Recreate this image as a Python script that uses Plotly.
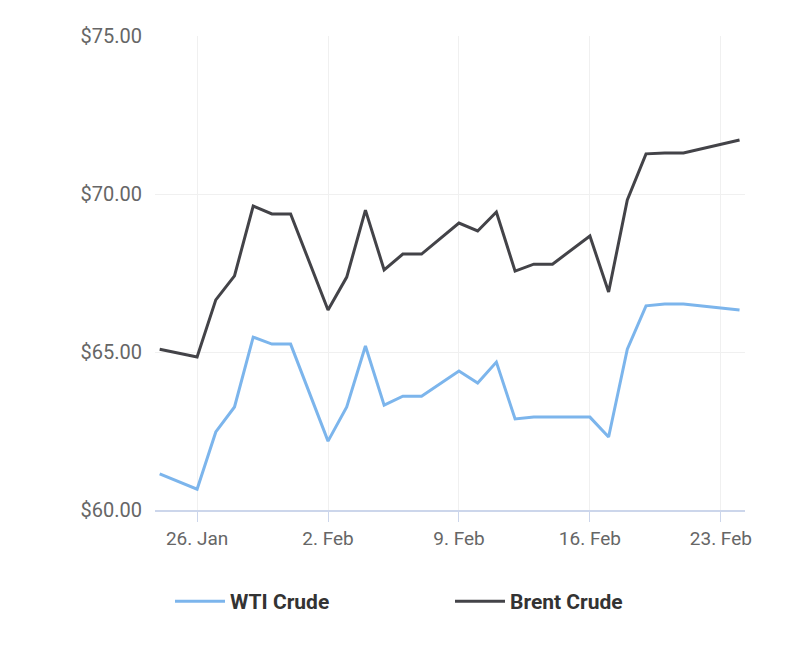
import plotly.graph_objects as go

dates = ["2021-01-24","2021-01-26","2021-01-27","2021-01-28","2021-01-29","2021-01-30","2021-01-31",
         "2021-02-02","2021-02-03","2021-02-04","2021-02-05","2021-02-06","2021-02-07","2021-02-09",
         "2021-02-10","2021-02-11","2021-02-12","2021-02-13","2021-02-14","2021-02-16","2021-02-17",
         "2021-02-18","2021-02-19","2021-02-20","2021-02-21","2021-02-24"]
wti = [61.14,60.66,62.47,63.26,65.47,65.25,65.25,62.18,63.26,65.19,63.32,63.6,63.6,64.4,
       64.02,64.68,62.88,62.94,62.94,62.94,62.31,65.09,66.46,66.52,66.52,66.33]
brent = [65.09,64.84,66.65,67.41,69.62,69.37,69.37,66.33,67.37,69.49,67.6,68.1,68.1,69.08,
         68.83,69.43,67.56,67.78,67.78,68.67,66.9,69.81,71.27,71.3,71.3,71.71]
tickvals = ["2021-01-26","2021-02-02","2021-02-09","2021-02-16","2021-02-23"]
ticktext = ["26. Jan","2. Feb","9. Feb","16. Feb","23. Feb"]

fig = go.Figure()
fig.add_trace(go.Scatter(x=dates, y=wti, name="WTI Crude", mode="lines",
                         line=dict(color="#7cb5ec", width=3)))
fig.add_trace(go.Scatter(x=dates, y=brent, name="Brent Crude", mode="lines",
                         line=dict(color="#434348", width=3)))
fig.update_layout(
    width=796, height=648, paper_bgcolor="white", plot_bgcolor="white",
    margin=dict(l=147, r=59, t=28, b=146),
    font=dict(family="Roboto", size=18, color="#666666"),
    legend=dict(orientation="h", x=0.5, xanchor="center", y=-0.15, yanchor="top",
                font=dict(size=21, color="#333333", family="Roboto", weight="bold"),
                itemwidth=50, entrywidth=215),
    xaxis=dict(range=["2021-01-23 18:00","2021-02-24 07:00"], tickvals=tickvals, ticktext=ticktext,
               showgrid=True, gridcolor="#f0f0f0", showline=True, linecolor="#ccd6eb", linewidth=2,
               ticks="outside", tickcolor="#ccd6eb", ticklen=10, tickfont=dict(size=19)),
    yaxis=dict(range=[60, 75], tickvals=[60,65,70,75], ticktext=["$60.00","$65.00","$70.00","$75.00"],
               showgrid=True, gridcolor="#f0f0f0", zeroline=False, ticklabelstandoff=12,
               tickfont=dict(size=20)),
)
fig.write_html("out.html")
